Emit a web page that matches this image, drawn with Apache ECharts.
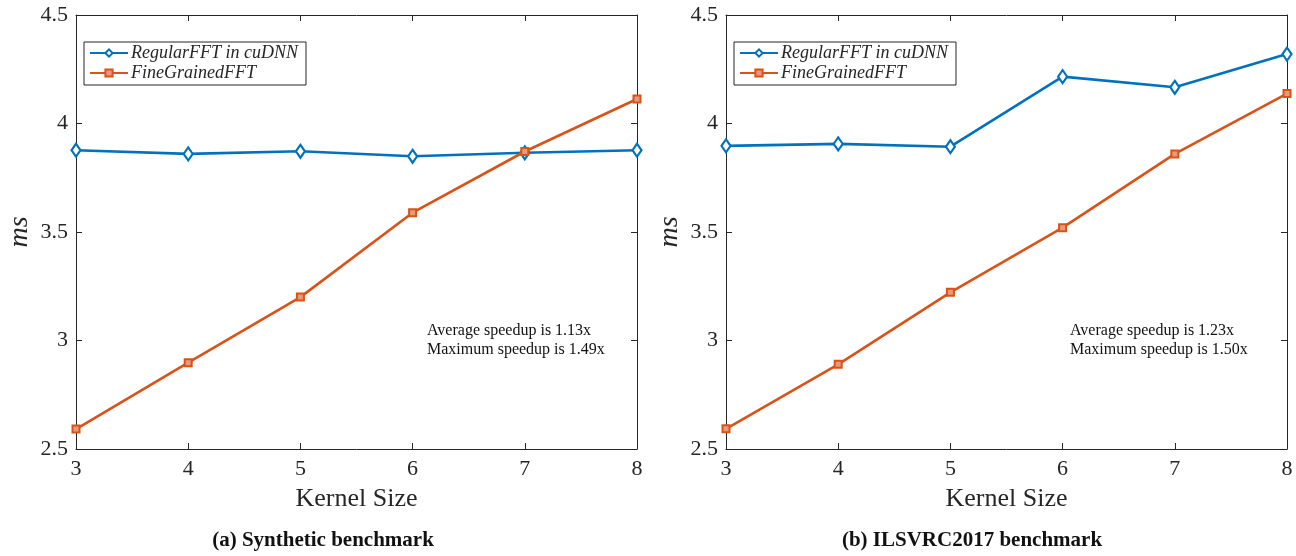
<!DOCTYPE html>
<html>
<head>
<meta charset="utf-8">
<script src="https://cdn.jsdelivr.net/npm/echarts@6/dist/echarts.min.js"></script>
<style>
  html, body { margin: 0; padding: 0; background: #fff; }
  #chart { width: 1296px; height: 556px; }
</style>
</head>
<body>
<div id="chart"></div>
<script>
// kernel sizes on the x axis
const kernelSizes = [3, 4, 5, 6, 7, 8]

// (a) synthetic benchmark, ms
const synRegular = [3.877, 3.860, 3.872, 3.849, 3.865, 3.877]
const synFine = [2.592, 2.898, 3.200, 3.589, 3.871, 4.113]

// (b) ILSVRC2017 benchmark, ms
const ilsRegular = [3.897, 3.906, 3.893, 4.216, 4.167, 4.320]
const ilsFine = [2.593, 2.890, 3.222, 3.520, 3.860, 4.138]

const yTicks = [2.5, 3, 3.5, 4, 4.5]
const captions = ['(a) Synthetic benchmark', '(b) ILSVRC2017 benchmark']
const notes = [
    ['Average speedup is 1.13x', 'Maximum speedup is 1.49x'],
    ['Average speedup is 1.23x', 'Maximum speedup is 1.50x']
]

const BLUE = '#0072BD'
const ORANGE = '#D95319'
const INK = '#262626'
const SERIF = '"Liberation Serif", "DejaVu Serif", serif'

const pair = ys => kernelSizes.map((k, i) => [k, ys[i]])

const grids = [
    { left: 76, top: 15, width: 561, height: 434 },
    { left: 726, top: 15, width: 561, height: 434 }
]

const xAxes = []
const yAxes = []
grids.forEach((g, gi) => {
    // bottom axis with labels, top axis only for box ticks
    ;['bottom', 'top'].forEach(pos => {
        const main = pos === 'bottom'
        xAxes.push({
            gridIndex: gi,
            type: 'value',
            position: pos,
            min: kernelSizes[0],
            max: kernelSizes[kernelSizes.length - 1],
            interval: 1,
            name: main ? 'Kernel Size' : '',
            nameLocation: 'middle',
            nameGap: 37,
            nameTextStyle: { fontFamily: SERIF, fontSize: 26, color: INK },
            axisLine: { show: true, onZero: false, lineStyle: { color: INK, width: 1 } },
            axisTick: { show: true, inside: true, length: 6, lineStyle: { color: INK } },
            axisLabel: { show: main, fontFamily: SERIF, fontSize: 22, color: INK, margin: 9 },
            splitLine: { show: false }
        })
    })
    ;['left', 'right'].forEach(pos => {
        const main = pos === 'left'
        yAxes.push({
            gridIndex: gi,
            type: 'value',
            position: pos,
            min: yTicks[0],
            max: yTicks[yTicks.length - 1],
            interval: 0.5,
            name: main ? 'ms' : '',
            nameLocation: 'middle',
            nameGap: 42,
            nameRotate: 90,
            nameTextStyle: { fontFamily: SERIF, fontStyle: 'italic', fontSize: 28, color: INK },
            axisLine: { show: true, onZero: false, lineStyle: { color: INK, width: 1 } },
            axisTick: { show: true, inside: true, length: 6, lineStyle: { color: INK } },
            axisLabel: { show: main, fontFamily: SERIF, fontSize: 22, color: INK, margin: 8 },
            splitLine: { show: false }
        })
    })
})

const makeSeries = (gi, regular, fine) => [
    {
        name: 'RegularFFT in cuDNN',
        type: 'line',
        xAxisIndex: gi * 2,
        yAxisIndex: gi * 2,
        data: pair(regular),
        symbol: 'diamond',
        symbolSize: [9, 13],
        showAllSymbol: true,
        lineStyle: { color: BLUE, width: 2.6 },
        itemStyle: { color: '#fff', borderColor: BLUE, borderWidth: 2.2 },
        z: 3
    },
    {
        name: 'FineGrainedFFT',
        type: 'line',
        xAxisIndex: gi * 2,
        yAxisIndex: gi * 2,
        data: pair(fine),
        symbol: 'rect',
        symbolSize: 7,
        lineStyle: { color: ORANGE, width: 2.6 },
        itemStyle: { color: '#ea9a78', borderColor: ORANGE, borderWidth: 2 },
        z: 4
    }
]

const legends = grids.map((g, gi) => ({
    orient: 'vertical',
    left: g.left + 8,
    top: 42,
    padding: [2, 8, 3, 5],
    itemGap: 2,
    itemWidth: 38,
    itemHeight: 9,
    borderColor: INK,
    borderWidth: 1,
    backgroundColor: '#fff',
    selectedMode: false,
    data: ['RegularFFT in cuDNN', 'FineGrainedFFT'],
    textStyle: { fontFamily: SERIF, fontStyle: 'italic', fontSize: 18, color: INK, padding: [0, 0, 0, -2] }
}))

const graphics = []
grids.forEach((g, gi) => {
    const nx = gi === 0 ? 427 : 1070
    notes[gi].forEach((t, li) => {
        graphics.push({
            type: 'text',
            left: nx,
            top: 323 + li * 19,
            style: { text: t, font: '16px ' + SERIF, fill: '#111' }
        })
    })
    graphics.push({
        type: 'text',
        x: gi === 0 ? 323 : 972,
        y: 541,
        style: {
            text: captions[gi],
            font: 'bold 21px ' + SERIF,
            fill: '#111',
            align: 'center',
            verticalAlign: 'middle'
        }
    })
})

const myChart = echarts.init(document.querySelector('#chart'))
const option = {
    backgroundColor: '#fff',
    animation: false,
    grid: grids,
    xAxis: xAxes,
    yAxis: yAxes,
    legend: legends,
    graphic: graphics,
    series: [
        ...makeSeries(0, synRegular, synFine),
        ...makeSeries(1, ilsRegular, ilsFine)
    ]
}
myChart.setOption(option)
</script>
</body>
</html>
